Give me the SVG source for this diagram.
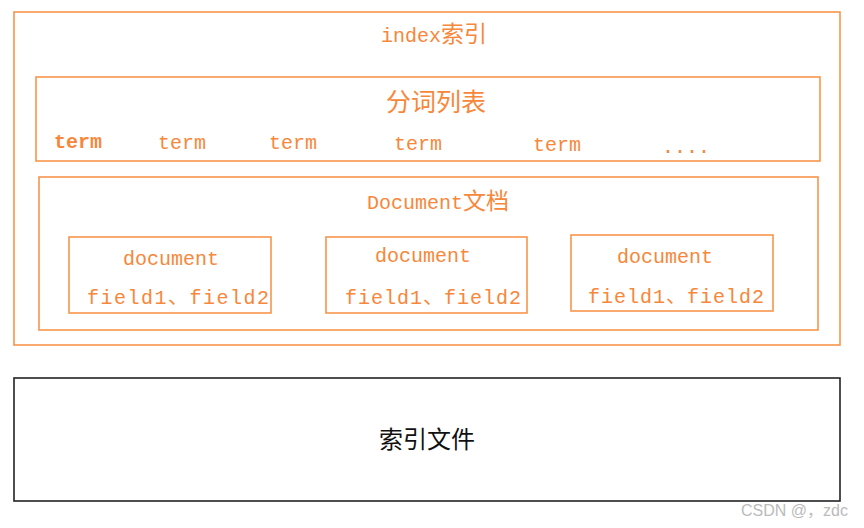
<svg xmlns="http://www.w3.org/2000/svg" width="864" height="528" viewBox="0 0 864 528">
<style>
.box{fill:none;stroke:#F8954C;stroke-width:1.6}
.t{font-family:"Liberation Mono","Noto Sans CJK SC",monospace;font-size:20px;fill:#F7873A;text-anchor:middle}
.cjk{font-family:"Noto Sans CJK SC",sans-serif;font-size:23px}
</style>
<rect width="864" height="528" fill="#fff"/>
<g id="index">
<rect class="box" x="14" y="12" width="826" height="333"/>
<text class="t" x="434" y="42">index<tspan class="cjk">索引</tspan></text>
</g>
<g id="terms">
<rect class="box" x="36" y="77" width="784" height="84"/>
<text class="t cjk" x="436" y="111" style="font-size:25px">分词列表</text>
<text class="t" x="78" y="148" font-weight="bold">term</text>
<text class="t" x="182" y="149">term</text>
<text class="t" x="293" y="149">term</text>
<text class="t" x="418" y="150">term</text>
<text class="t" x="557" y="151">term</text>
<text class="t" x="686" y="153">....</text>
</g>
<g id="documents">
<rect class="box" x="39" y="177" width="779" height="153"/>
<text class="t" x="438" y="209">Document<tspan class="cjk">文档</tspan></text>
</g>
<g id="doc1">
<rect class="box" x="69" y="237" width="202" height="76"/>
<text class="t" x="171" y="265">document</text>
<text class="t" x="178" y="304" textLength="182" lengthAdjust="spacing">field1、field2</text>
</g>
<g id="doc2">
<rect class="box" x="326" y="237" width="201" height="76"/>
<text class="t" x="423" y="262">document</text>
<text class="t" x="433" y="304" textLength="176" lengthAdjust="spacing">field1、field2</text>
</g>
<g id="doc3">
<rect class="box" x="571" y="235" width="202" height="76"/>
<text class="t" x="665" y="263">document</text>
<text class="t" x="676" y="303" textLength="176" lengthAdjust="spacing">field1、field2</text>
</g>
<g id="file">
<rect x="14" y="378" width="826" height="123" fill="none" stroke="#222" stroke-width="1.6"/>
<text x="427" y="448" text-anchor="middle" font-family="Noto Sans CJK SC,sans-serif" font-size="24" fill="#111">索引文件</text>
</g>
<g id="connectors"/>
<text x="848" y="516" text-anchor="end" font-family="Liberation Sans,Noto Sans CJK SC,sans-serif" font-size="16" fill="#bbb">CSDN @，zdc</text>
</svg>
